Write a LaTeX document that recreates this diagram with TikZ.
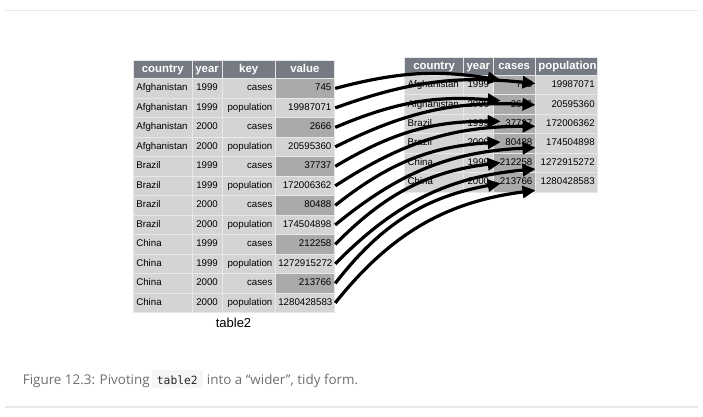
\documentclass[tikz,border=0pt]{standalone}
\usepackage{fontspec}
\setmainfont{Liberation Sans}
\newfontfamily\capfont{Open Sans}
\newfontfamily\codefont{DejaVu Sans Mono}
\usetikzlibrary{arrows.meta,calc}
\definecolor{hdrbg}{RGB}{118,122,131}
\definecolor{cellbg}{RGB}{212,212,212}
\definecolor{cellline}{RGB}{232,232,232}
\definecolor{valhl}{RGB}{170,170,170}
\definecolor{capgray}{RGB}{110,110,110}
\definecolor{codebg}{RGB}{246,246,246}
\definecolor{rulegray}{RGB}{232,232,232}
\begin{document}
\begin{tikzpicture}[x=1pt,y=-1pt,
  cell/.style={draw=cellline, line width=0.7pt, fill=cellbg, anchor=north west,
    inner xsep=3pt, inner ysep=0pt, minimum height=19.5pt,
    text height=7pt, text depth=2pt, text=black,
    font=\fontsize{9.7}{11}\selectfont},
  rcell/.style={cell, minimum height=19.45pt},
  hdr/.style={cell, fill=hdrbg, text=white, align=center, minimum height=18.3pt,
    text height=8.5pt, text depth=2.5pt, font=\bfseries\fontsize{11.4}{13}\selectfont},
  lc1/.style={text width=52.7pt, align=left},
  lc2/.style={text width=24pt, align=center},
  lc3/.style={text width=47.3pt, align=right},
  lc4/.style={text width=53pt, align=right},
  rc1/.style={text width=53pt, align=left},
  rc2/.style={text width=23.4pt, align=center},
  rc3/.style={text width=36.3pt, align=right},
  rc4/.style={text width=56.3pt, align=right},
  arr/.style={line width=3.2pt, black, -{Triangle[length=13pt,width=12pt]}},
  captext/.style={inner sep=0pt, text=capgray, font=\capfont\fontsize{13.4}{15}\selectfont},
  codebox/.style={fill=codebg, rounded corners=2pt, inner xsep=5pt, inner ysep=0pt,
    text height=14pt, text depth=4pt, text=black!85,
    font=\codefont\fontsize{11.3}{13}\selectfont},
  rulestyle/.style={draw=rulegray, line width=1.5pt}
]
\useasboundingbox (0,0) rectangle (703,416);
\fill[white] (0,0) rectangle (703,416);

% rules
\coordinate (t1) at (5,10.5); \coordinate (t2) at (698,10.5);
\coordinate (b1) at (5,407); \coordinate (b2) at (698,407);
\draw[rulestyle] (t1) -- (t2);
\draw[rulestyle] (b1) -- (b2);

% left table header
\node[hdr, lc1, align=center] (LH-c) at (133,60) {country};
\node[hdr, lc2, align=center] (LH-y) at (191.7,60) {year};
\node[hdr, lc3, align=center] (LH-k) at (221.7,60) {key};
\node[hdr, lc4, align=center] (LH-v) at (275,60) {value};

% left table body
\foreach \r/\c/\y/\k/\v/\f in {
  1/Afghanistan/1999/cases/745/valhl,
  2/Afghanistan/1999/population/19987071/cellbg,
  3/Afghanistan/2000/cases/2666/valhl,
  4/Afghanistan/2000/population/20595360/cellbg,
  5/Brazil/1999/cases/37737/valhl,
  6/Brazil/1999/population/172006362/cellbg,
  7/Brazil/2000/cases/80488/valhl,
  8/Brazil/2000/population/174504898/cellbg,
  9/China/1999/cases/212258/valhl,
  10/China/1999/population/1272915272/cellbg,
  11/China/2000/cases/213766/valhl,
  12/China/2000/population/1280428583/cellbg}{
  \pgfmathsetmacro\yy{78.3+19.5*(\r-1)}
  \node[cell, lc1] (L\r-c) at (133,\yy) {\c};
  \node[cell, lc2] (L\r-y) at (191.7,\yy) {\y};
  \node[cell, lc3] (L\r-k) at (221.7,\yy) {\k};
  \node[cell, lc4, fill=\f] (L\r-v) at (275,\yy) {\v};
}
\node[font=\fontsize{13}{15}\selectfont, text=black, inner sep=0pt] (lbl) at (233.5,322.7) {table2};

% right table header
\node[hdr, rc1, align=center] (RH-c) at (404.3,56.7) {country};
\node[hdr, rc2, align=center] (RH-y) at (463.3,56.7) {year};
\node[hdr, rc3, align=center] (RH-k) at (492.7,56.7) {cases};
\node[hdr, rc4, align=center] (RH-v) at (535,56.7) {population};

% right table body
\foreach \r/\c/\y/\k/\v in {
  1/Afghanistan/1999/745/19987071,
  2/Afghanistan/2000/2666/20595360,
  3/Brazil/1999/37737/172006362,
  4/Brazil/2000/80488/174504898,
  5/China/1999/212258/1272915272,
  6/China/2000/213766/1280428583}{
  \pgfmathsetmacro\yy{75+19.45*(\r-1)}
  \node[rcell, rc1] (R\r-c) at (404.3,\yy) {\c};
  \node[rcell, rc2] (R\r-y) at (463.3,\yy) {\y};
  \node[rcell, rc3, fill=valhl] (R\r-cs) at (492.7,\yy) {\k};
  \node[rcell, rc4] (R\r-p) at (535,\yy) {\v};
}

% arrows
\foreach \i in {1,...,6}{
  \pgfmathtruncatemacro\a{2*\i-1}
  \pgfmathtruncatemacro\b{2*\i}
  \pgfmathsetmacro\ca{5-1.2*(\i-1)}
  \pgfmathsetmacro\pa{1.5-1.9*(\i-1)}
  \pgfmathsetmacro\ba{12+10*(\a-1)/11}
  \pgfmathsetmacro\bb{12+10*(\b-1)/11}
  \draw[arr] ([xshift=0.5pt]L\a-v.east) to[bend left=\ba] ([xshift=8pt,yshift=\ca pt]R\i-cs.west);
  \draw[arr] ([xshift=0.5pt]L\b-v.east) to[bend left=\bb] ([xshift=0.5pt,yshift=\pa pt]R\i-p.west);
}

% caption
\node[captext, anchor=base west] (cap1) at (22.7,384) {Figure 12.3: Pivoting};
\node[codebox, anchor=base west] (code) at (151.7,384) {table2};
\node[captext, anchor=base west] (cap2) at (206.7,384) {into a “wider”, tidy form.};
\end{tikzpicture}
\end{document}
